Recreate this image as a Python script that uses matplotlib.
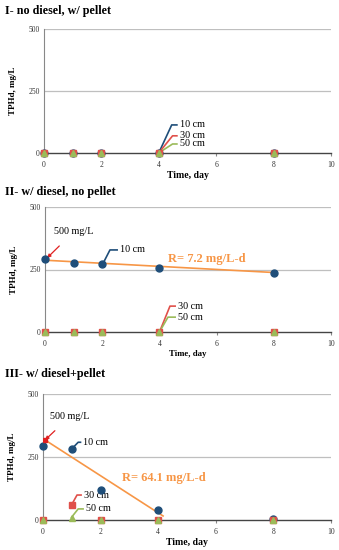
import numpy as np
import matplotlib.pyplot as plt

plt.rcParams['font.family'] = ['Liberation Serif', 'DejaVu Serif']

days = [0, 1, 2, 4, 8]

# panel I: no diesel, w/ pellet
p1_10 = [0, 0, 0, 0, 0]
p1_30 = [0, 0, 0, 0, 0]
p1_50 = [0, 0, 0, 0, 0]

# panel II: w/ diesel, no pellet
p2_10 = [290, 275, 270, 255, 235]
p2_30 = [0, 0, 0, 0, 0]
p2_50 = [0, 0, 0, 0, 0]
p2_trend_x = [0, 8]
p2_trend_y = [287, 238]

# panel III: w/ diesel+pellet
p3_10 = [295, 280, 120, 40, 3]
p3_30 = [0, 60, 0, 0, 0]
p3_50 = [0, 8, 0, 0, 0]
p3_trend_x = [0.07, 4.17]
p3_trend_y = [317, 16]

titles = ['I- no diesel, w/ pellet', 'II- w/ diesel, no pellet', 'III- w/ diesel+pellet']
rates = [None, 'R= 7.2 mg/L-d', 'R= 64.1 mg/L-d']

c10 = '#1F4E79'
c30 = '#E0504A'
c50 = '#9BBB59'
corange = '#F79646'

fig = plt.figure(figsize=(3.39, 5.5), dpi=100)

boxes = [[0.130, 0.722, 0.846, 0.225],
         [0.133, 0.396, 0.843, 0.228],
         [0.127, 0.0545, 0.849, 0.2295]]
title_y = [0.980, 0.650, 0.320]
xlabel_size = [7, 6.3, 7]
series = [(p1_10, p1_30, p1_50), (p2_10, p2_30, p2_50), (p3_10, p3_30, p3_50)]

axes = []
for i in range(3):
    ax = fig.add_axes(boxes[i])
    s10, s30, s50 = series[i]
    ax.plot(days, s10, 'o', color=c10, ms=5, clip_on=False, zorder=4)
    ax.plot(days, s30, 's', color=c30, ms=4.5, clip_on=False, zorder=5)
    ax.plot(days, s50, '^', color=c50, ms=4, clip_on=False, zorder=6)
    ax.set_xlim(0, 10)
    ax.set_ylim(0, 500)
    ax.set_xticks([0, 2, 4, 6, 8, 10])
    ax.set_yticks([0, 250, 500])
    ax.tick_params(axis='y', length=0, labelsize=5.5, pad=3, colors='#333333')
    ax.tick_params(axis='x', length=2, labelsize=5.5, pad=3.5, colors='#333333', color='#888888')
    for y in [250, 500]:
        ax.axhline(y, color='#BFBFBF', lw=0.9, zorder=1)
    ax.spines['top'].set_visible(False)
    ax.spines['right'].set_visible(False)
    ax.spines['left'].set_color('#888888')
    ax.spines['bottom'].set_color('#444444')
    ax.spines['bottom'].set_linewidth(1.0)
    ax.set_xlabel('Time, day', fontsize=xlabel_size[i], fontweight='bold', labelpad=1.5)
    ax.set_ylabel('TPHd, mg/L', fontsize=6.5, fontweight='bold', labelpad=8)
    fig.text(0.015, title_y[i], titles[i], fontsize=8.7, fontweight='bold', va='center')
    axes.append(ax)


def callout(ax, xy, knee, xtext, label, color):
    ax.plot([xy[0], knee[0], xtext - 0.07], [xy[1], knee[1], knee[1]],
            color=color, lw=1.2, solid_capstyle='butt', zorder=3, clip_on=False)
    ax.text(xtext, knee[1], label, fontsize=7.3, va='center', ha='left')


def red_arrow(ax, xy, xytext):
    ax.annotate('500 mg/L', xy=xy, xytext=xytext, fontsize=7.3, va='center',
                arrowprops=dict(arrowstyle='-|>', color='#E02020', lw=0.9,
                                mutation_scale=5, shrinkA=7, shrinkB=0))


ax1, ax2, ax3 = axes

callout(ax1, (4, 0), (4.45, 113), 4.73, '10 cm', c10)
callout(ax1, (4, 0), (4.48, 69), 4.73, '30 cm', c30)
callout(ax1, (4, 0), (4.48, 36), 4.73, '50 cm', c50)

ax2.plot(p2_trend_x, p2_trend_y, color=corange, lw=1.2, zorder=3)
ax2.text(4.3, 293, rates[1], color=corange, fontsize=9, fontweight='bold', va='center')
callout(ax2, (2, 268), (2.27, 328), 2.62, '10 cm', c10)
callout(ax2, (4, 0), (4.37, 104), 4.65, '30 cm', c30)
callout(ax2, (4, 0), (4.3, 60), 4.65, '50 cm', c50)
red_arrow(ax2, (0.07, 296), (0.31, 400))

ax3.plot(p3_trend_x, p3_trend_y, color=corange, lw=1.2, zorder=3)
ax3.plot(p3_trend_x[0], p3_trend_y[0], 's', color='#E02020', ms=2.5, zorder=4)
ax3.text(2.74, 167, rates[2], color=corange, fontsize=9, fontweight='bold', va='center')
callout(ax3, (1, 282), (1.22, 308), 1.4, '10 cm', c10)
callout(ax3, (1, 62), (1.18, 99), 1.42, '30 cm', c30)
callout(ax3, (0.97, 8), (1.22, 44), 1.49, '50 cm', c50)
red_arrow(ax3, (0.07, 317), (0.24, 409))

fig.savefig('out.png', dpi=100)
